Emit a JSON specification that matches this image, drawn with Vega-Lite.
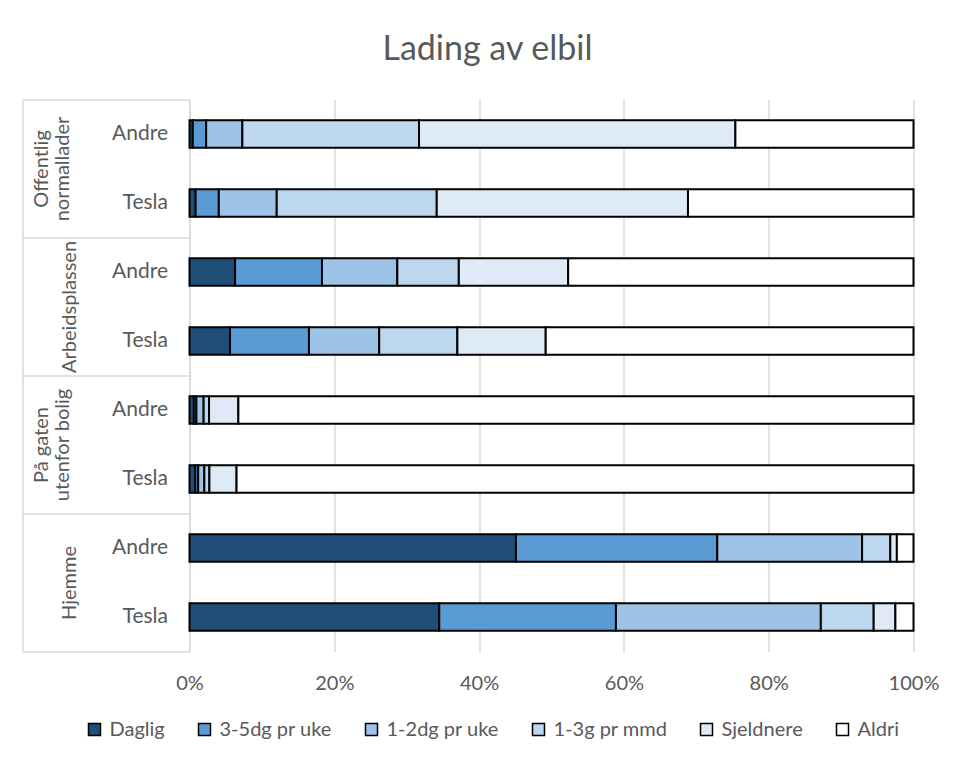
{
  "$schema": "https://vega.github.io/schema/vega-lite/v6.json",
  "width": 724,
  "height": 552,
  "autosize": {"type": "none"},
  "padding": {"left": 189.5, "top": 99.5, "right": 44.5, "bottom": 106.5},
  "background": "white",
  "title": {"text": "Lading av elbil", "font": "Lato", "fontSize": 34, "fontWeight": "normal", "color": "#595959", "anchor": "middle", "frame": "group", "dx": -64, "baseline": "alphabetic", "offset": 5},
  "data": {"values": [
    {"gruppe": "Offentlig|normallader", "rad": "Offentlig normallader: Andre", "kategori": "Daglig", "nr": 1, "andel": 0.45},
    {"gruppe": "Offentlig|normallader", "rad": "Offentlig normallader: Andre", "kategori": "3-5dg pr uke", "nr": 2, "andel": 1.85},
    {"gruppe": "Offentlig|normallader", "rad": "Offentlig normallader: Andre", "kategori": "1-2dg pr uke", "nr": 3, "andel": 5.0},
    {"gruppe": "Offentlig|normallader", "rad": "Offentlig normallader: Andre", "kategori": "1-3g pr mmd", "nr": 4, "andel": 24.4},
    {"gruppe": "Offentlig|normallader", "rad": "Offentlig normallader: Andre", "kategori": "Sjeldnere", "nr": 5, "andel": 43.7},
    {"gruppe": "Offentlig|normallader", "rad": "Offentlig normallader: Andre", "kategori": "Aldri", "nr": 6, "andel": 24.6},
    {"gruppe": "Offentlig|normallader", "rad": "Offentlig normallader: Tesla", "kategori": "Daglig", "nr": 1, "andel": 0.85},
    {"gruppe": "Offentlig|normallader", "rad": "Offentlig normallader: Tesla", "kategori": "3-5dg pr uke", "nr": 2, "andel": 3.2},
    {"gruppe": "Offentlig|normallader", "rad": "Offentlig normallader: Tesla", "kategori": "1-2dg pr uke", "nr": 3, "andel": 8.0},
    {"gruppe": "Offentlig|normallader", "rad": "Offentlig normallader: Tesla", "kategori": "1-3g pr mmd", "nr": 4, "andel": 22.1},
    {"gruppe": "Offentlig|normallader", "rad": "Offentlig normallader: Tesla", "kategori": "Sjeldnere", "nr": 5, "andel": 34.7},
    {"gruppe": "Offentlig|normallader", "rad": "Offentlig normallader: Tesla", "kategori": "Aldri", "nr": 6, "andel": 31.15},
    {"gruppe": "Arbeidsplassen", "rad": "Arbeidsplassen: Andre", "kategori": "Daglig", "nr": 1, "andel": 6.3},
    {"gruppe": "Arbeidsplassen", "rad": "Arbeidsplassen: Andre", "kategori": "3-5dg pr uke", "nr": 2, "andel": 12.0},
    {"gruppe": "Arbeidsplassen", "rad": "Arbeidsplassen: Andre", "kategori": "1-2dg pr uke", "nr": 3, "andel": 10.4},
    {"gruppe": "Arbeidsplassen", "rad": "Arbeidsplassen: Andre", "kategori": "1-3g pr mmd", "nr": 4, "andel": 8.5},
    {"gruppe": "Arbeidsplassen", "rad": "Arbeidsplassen: Andre", "kategori": "Sjeldnere", "nr": 5, "andel": 15.1},
    {"gruppe": "Arbeidsplassen", "rad": "Arbeidsplassen: Andre", "kategori": "Aldri", "nr": 6, "andel": 47.7},
    {"gruppe": "Arbeidsplassen", "rad": "Arbeidsplassen: Tesla", "kategori": "Daglig", "nr": 1, "andel": 5.6},
    {"gruppe": "Arbeidsplassen", "rad": "Arbeidsplassen: Tesla", "kategori": "3-5dg pr uke", "nr": 2, "andel": 10.9},
    {"gruppe": "Arbeidsplassen", "rad": "Arbeidsplassen: Tesla", "kategori": "1-2dg pr uke", "nr": 3, "andel": 9.7},
    {"gruppe": "Arbeidsplassen", "rad": "Arbeidsplassen: Tesla", "kategori": "1-3g pr mmd", "nr": 4, "andel": 10.8},
    {"gruppe": "Arbeidsplassen", "rad": "Arbeidsplassen: Tesla", "kategori": "Sjeldnere", "nr": 5, "andel": 12.2},
    {"gruppe": "Arbeidsplassen", "rad": "Arbeidsplassen: Tesla", "kategori": "Aldri", "nr": 6, "andel": 50.8},
    {"gruppe": "På gaten|utenfor bolig", "rad": "På gaten utenfor bolig: Andre", "kategori": "Daglig", "nr": 1, "andel": 0.6},
    {"gruppe": "På gaten|utenfor bolig", "rad": "På gaten utenfor bolig: Andre", "kategori": "3-5dg pr uke", "nr": 2, "andel": 0.35},
    {"gruppe": "På gaten|utenfor bolig", "rad": "På gaten utenfor bolig: Andre", "kategori": "1-2dg pr uke", "nr": 3, "andel": 1.0},
    {"gruppe": "På gaten|utenfor bolig", "rad": "På gaten utenfor bolig: Andre", "kategori": "1-3g pr mmd", "nr": 4, "andel": 0.75},
    {"gruppe": "På gaten|utenfor bolig", "rad": "På gaten utenfor bolig: Andre", "kategori": "Sjeldnere", "nr": 5, "andel": 4.05},
    {"gruppe": "På gaten|utenfor bolig", "rad": "På gaten utenfor bolig: Andre", "kategori": "Aldri", "nr": 6, "andel": 93.25},
    {"gruppe": "På gaten|utenfor bolig", "rad": "På gaten utenfor bolig: Tesla", "kategori": "Daglig", "nr": 1, "andel": 0.8},
    {"gruppe": "På gaten|utenfor bolig", "rad": "På gaten utenfor bolig: Tesla", "kategori": "3-5dg pr uke", "nr": 2, "andel": 0.4},
    {"gruppe": "På gaten|utenfor bolig", "rad": "På gaten utenfor bolig: Tesla", "kategori": "1-2dg pr uke", "nr": 3, "andel": 0.85},
    {"gruppe": "På gaten|utenfor bolig", "rad": "På gaten utenfor bolig: Tesla", "kategori": "1-3g pr mmd", "nr": 4, "andel": 0.7},
    {"gruppe": "På gaten|utenfor bolig", "rad": "På gaten utenfor bolig: Tesla", "kategori": "Sjeldnere", "nr": 5, "andel": 3.75},
    {"gruppe": "På gaten|utenfor bolig", "rad": "På gaten utenfor bolig: Tesla", "kategori": "Aldri", "nr": 6, "andel": 93.5},
    {"gruppe": "Hjemme", "rad": "Hjemme: Andre", "kategori": "Daglig", "nr": 1, "andel": 45.1},
    {"gruppe": "Hjemme", "rad": "Hjemme: Andre", "kategori": "3-5dg pr uke", "nr": 2, "andel": 27.8},
    {"gruppe": "Hjemme", "rad": "Hjemme: Andre", "kategori": "1-2dg pr uke", "nr": 3, "andel": 20.0},
    {"gruppe": "Hjemme", "rad": "Hjemme: Andre", "kategori": "1-3g pr mmd", "nr": 4, "andel": 3.9},
    {"gruppe": "Hjemme", "rad": "Hjemme: Andre", "kategori": "Sjeldnere", "nr": 5, "andel": 0.9},
    {"gruppe": "Hjemme", "rad": "Hjemme: Andre", "kategori": "Aldri", "nr": 6, "andel": 2.3},
    {"gruppe": "Hjemme", "rad": "Hjemme: Tesla", "kategori": "Daglig", "nr": 1, "andel": 34.5},
    {"gruppe": "Hjemme", "rad": "Hjemme: Tesla", "kategori": "3-5dg pr uke", "nr": 2, "andel": 24.4},
    {"gruppe": "Hjemme", "rad": "Hjemme: Tesla", "kategori": "1-2dg pr uke", "nr": 3, "andel": 28.3},
    {"gruppe": "Hjemme", "rad": "Hjemme: Tesla", "kategori": "1-3g pr mmd", "nr": 4, "andel": 7.3},
    {"gruppe": "Hjemme", "rad": "Hjemme: Tesla", "kategori": "Sjeldnere", "nr": 5, "andel": 3.0},
    {"gruppe": "Hjemme", "rad": "Hjemme: Tesla", "kategori": "Aldri", "nr": 6, "andel": 2.5}
  ]},
  "layer": [
    {
      "mark": {"type": "bar", "stroke": "#000000", "strokeWidth": 2},
      "encoding": {
        "y": {
          "field": "rad", "type": "nominal",
          "sort": ["Offentlig normallader: Andre", "Offentlig normallader: Tesla", "Arbeidsplassen: Andre", "Arbeidsplassen: Tesla", "På gaten utenfor bolig: Andre", "På gaten utenfor bolig: Tesla", "Hjemme: Andre", "Hjemme: Tesla"],
          "scale": {"paddingInner": 0.6, "paddingOuter": 0.3},
          "axis": {"orient": "left", "title": null, "labelExpr": "split(datum.value, ': ')[1]", "domain": true, "domainColor": "#d9d9d9", "domainWidth": 1.5, "ticks": false, "grid": false, "labelPadding": 22, "labelAlign": "right", "labelBaseline": "middle", "labelFontSize": 21, "labelColor": "#595959", "labelFont": "Lato"}
        },
        "x": {
          "field": "andel", "type": "quantitative", "stack": "normalize",
          "scale": {"domain": [0, 1], "nice": false},
          "axis": {"title": null, "format": ".0%", "values": [0, 0.2, 0.4, 0.6, 0.8, 1], "grid": true, "gridColor": "#d9d9d9", "gridWidth": 1.5, "domain": false, "ticks": false, "labelFlush": false, "labelPadding": 22, "labelFontSize": 20, "labelColor": "#595959", "labelFont": "Lato"}
        },
        "color": {
          "field": "kategori", "type": "nominal",
          "scale": {"domain": ["Daglig", "3-5dg pr uke", "1-2dg pr uke", "1-3g pr mmd", "Sjeldnere", "Aldri"], "range": ["#1f4e79", "#5b9bd5", "#9dc3e6", "#bdd7ee", "#deebf7", "#ffffff"]},
          "legend": {"title": null, "orient": "none", "direction": "horizontal", "legendX": -105, "legendY": 620, "padding": 0, "symbolType": "square", "symbolSize": 144, "symbolStrokeColor": "#000000", "symbolStrokeWidth": 1.5, "symbolOpacity": 1, "labelFontSize": 20, "labelColor": "#595959", "labelFont": "Lato", "labelOffset": 5, "columnPadding": 29}
        },
        "order": {"field": "nr", "type": "quantitative"}
      }
    },
    {
      "mark": {"type": "text"},
      "encoding": {
        "y": {
          "field": "gruppe", "type": "nominal",
          "sort": ["Offentlig|normallader", "Arbeidsplassen", "På gaten|utenfor bolig", "Hjemme"],
          "scale": {"paddingInner": 0, "paddingOuter": 0},
          "axis": {"orient": "left", "title": null, "offset": 167, "domain": true, "domainColor": "#d9d9d9", "domainWidth": 1.5, "ticks": true, "tickBand": "extent", "tickSize": -167, "tickColor": "#d9d9d9", "tickWidth": 1.5, "grid": false, "labelAngle": -90, "labelAlign": "center", "labelBaseline": "bottom",
            "labelPadding": {"condition": {"test": "datum.value && indexof(datum.value, '|') >= 0", "value": 138}, "value": 110},
            "labelExpr": "datum.value ? split(datum.value, '|') : ''", "labelFontSize": 20, "labelLineHeight": 21, "labelColor": "#595959", "labelFont": "Lato"}
        },
        "text": {"value": ""}
      }
    }
  ],
  "resolve": {"scale": {"y": "independent"}},
  "config": {"font": "Lato", "view": {"stroke": null}}
}
